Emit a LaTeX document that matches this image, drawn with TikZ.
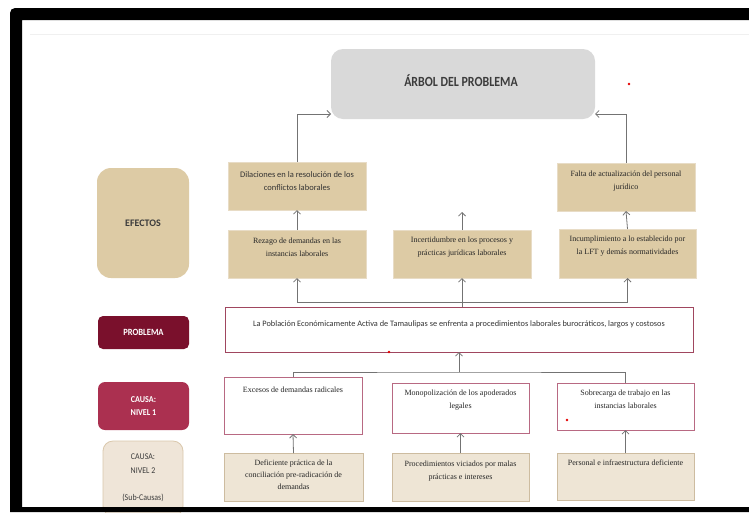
\documentclass[tikz,border=0pt]{standalone}
\usepackage{fontspec}
\setmainfont{Liberation Serif}
\newfontfamily\carl{Carlito}
\newfontfamily\carlc[FakeStretch=0.9]{Carlito}
\newfontfamily\carlt[FakeStretch=0.85]{Carlito}
\usetikzlibrary{arrows.meta}
\definecolor{titlefill}{RGB}{217,217,217}
\definecolor{dark}{RGB}{60,60,60}
\definecolor{efffill}{RGB}{221,203,165}
\definecolor{effdraw}{RGB}{232,220,198}
\definecolor{probfill}{RGB}{122,16,44}
\definecolor{probdraw}{RGB}{160,70,95}
\definecolor{c1fill}{RGB}{171,48,80}
\definecolor{causedraw}{RGB}{184,105,130}
\definecolor{c2fill}{RGB}{239,229,216}
\definecolor{c2draw}{RGB}{218,200,172}
\definecolor{subfill}{RGB}{238,229,213}
\definecolor{subdraw}{RGB}{205,188,160}
\definecolor{arrcol}{RGB}{115,115,115}
\tikzset{
 box/.style={anchor=north west, inner sep=0pt, outer sep=0pt},
 effbox/.style={box, fill=efffill, draw=effdraw, line width=0.7pt},
 causebox/.style={box, fill=white, draw=causedraw, line width=0.9pt},
 subbox/.style={box, fill=subfill, draw=subdraw, line width=0.8pt},
 lbl/.style={box, align=center, font=\carlc\bfseries\fontsize{9.5}{13}\selectfont},
 stxt/.style={anchor=north, inner sep=0pt, align=center, text=black!85, font=\fontsize{8}{12.3}\selectfont},
 ctxt/.style={anchor=north, inner sep=0pt, align=center, text=black!80, font=\carl\fontsize{8.5}{13}\selectfont},
 arr/.style={draw=arrcol, line width=0.8pt, -{Straight Barb[length=3.5pt,width=7pt]}},
 ln/.style={draw=arrcol, line width=0.8pt},
}
\begin{document}
\begin{tikzpicture}[x=1pt,y=-1pt]
\useasboundingbox (0,0) rectangle (749,512);
\fill[white] (0,0) rectangle (749,512);
\draw[black!6, line width=0.6pt] (30,34) -- (749,34);
% title
\node[box, fill=titlefill, rounded corners=12pt, minimum width=264pt, minimum height=70pt] (title) at (331,49) {};
\node[inner sep=0pt, text=dark, font=\carlt\bfseries\fontsize{14}{16}\selectfont] (titletxt) at (461,81) {ÁRBOL DEL PROBLEMA};
\coordinate (tl) at (331,114);
\coordinate (tr) at (595,114);
% left labels
\node[lbl, fill=efffill, rounded corners=14pt, minimum width=92pt, minimum height=110pt, text=dark, font=\carl\bfseries\fontsize{10}{13}\selectfont] (efectos) at (97,168) {EFECTOS};
\node[lbl, fill=probfill, rounded corners=5pt, minimum width=91pt, minimum height=33pt, text=white] (problema) at (98,316) {PROBLEMA};
\node[lbl, fill=c1fill, rounded corners=7pt, minimum width=91pt, minimum height=48pt, text=white, font=\carlc\bfseries\fontsize{9}{13}\selectfont] (causa1) at (98,382) {CAUSA:\\NIVEL 1};
\node[box, fill=c2fill, draw=c2draw, line width=0.8pt, rounded corners=10pt, minimum width=80pt, minimum height=75pt] (causa2) at (103,441) {};
\node[anchor=north, inner sep=0pt, align=center, text=dark, font=\carlc\fontsize{8.8}{13.5}\selectfont] (causa2txt) at (143,454) {CAUSA:\\NIVEL 2\\[13.5pt](Sub-Causas)};
% effects
\node[effbox, minimum width=138pt, minimum height=48pt] (dil) at (228,162) {};
\node[ctxt] (diltxt) at ([yshift=-9pt]dil.north) {Dilaciones en la resolución de los\\conflictos laborales};
\node[effbox, minimum width=138pt, minimum height=48pt] (fal) at (557,163) {};
\node[stxt] (faltxt) at ([yshift=-8pt]fal.north) {Falta de actualización del personal\\jurídico};
\node[effbox, minimum width=138pt, minimum height=48pt] (rez) at (228,230) {};
\node[stxt] (reztxt) at ([yshift=-8pt]rez.north) {Rezago de demandas en las\\instancias laborales};
\node[effbox, minimum width=138pt, minimum height=48pt] (inc) at (393,230) {};
\node[stxt] (inctxt) at ([yshift=-7pt]inc.north) {Incertidumbre en los procesos y\\prácticas jurídicas laborales};
\node[effbox, minimum width=137pt, minimum height=49pt] (inm) at (559,229) {};
\node[stxt] (inmtxt) at ([yshift=-7pt]inm.north) {Incumplimiento a lo establecido por\\la LFT y demás normatividades};
\coordinate (incfree) at (462,212);
% problem
\node[box, fill=white, draw=probdraw, line width=0.9pt, minimum width=468pt, minimum height=45pt] (prob) at (225,307) {};
\node[anchor=north, inner sep=0pt, text=black!80, font=\carl\fontsize{8.3}{10}\selectfont] (probtxt) at ([yshift=-14pt]prob.north) {La Población Económicamente Activa de Tamaulipas se enfrenta a procedimientos laborales burocráticos, largos y costosos};
% causes
\node[causebox, minimum width=138pt, minimum height=57pt] (exc) at (224,377) {};
\node[stxt] (exctxt) at ([yshift=-10pt]exc.north) {Excesos de demandas radicales};
\node[causebox, minimum width=137pt, minimum height=50pt] (mon) at (392,383) {};
\node[stxt] (montxt) at ([yshift=-7pt]mon.north) {Monopolización de los apoderados\\legales};
\node[causebox, minimum width=137pt, minimum height=47pt] (sob) at (557,383) {};
\node[stxt] (sobtxt) at ([yshift=-7pt]sob.north) {Sobrecarga de trabajo en las\\instancias laborales};
% sub causes
\node[subbox, minimum width=139pt, minimum height=48pt] (def) at (224,453) {};
\node[stxt, font=\fontsize{8}{12}\selectfont] (deftxt) at ([yshift=-7pt]def.north) {Deficiente práctica de la\\conciliación pre-radicación de\\demandas};
\node[subbox, minimum width=137pt, minimum height=48pt] (proc) at (392,453) {};
\node[stxt] (proctxt) at ([yshift=-8pt]proc.north) {Procedimientos viciados por malas\\prácticas e intereses};
\node[subbox, minimum width=137pt, minimum height=47pt] (per) at (557,453) {};
\node[stxt] (pertxt) at ([yshift=-7pt]per.north) {Personal e infraestructura deficiente};
% connectors
\draw[arr] (dil.north) |- (tl);
\draw[arr] (fal.north) |- (tr);
\draw[arr] (rez.north) -- (dil.south);
\draw[arr] (inm.north) -- (fal.south);
\draw[arr] (inc.north) -- (incfree);
\coordinate (jE) at (462,302);
\draw[arr] (prob.north -| jE) -- (inc.south);
\draw[arr] (jE) -| (rez.south);
\draw[arr] (jE) -| (inm.south);
\coordinate (jC) at (459,372);
\draw[arr] (jC) -- (prob.south -| jC);
\draw[ln] (exc.north) |- (jC) -| (sob.north);
\draw[arr] (def.north) -- (exc.south);
\draw[arr] (proc.north) -- (mon.south);
\draw[arr] (per.north) -- (sob.south);
% stray red dots
\fill[red!90!black] (629,84) circle (1.3pt);
\fill[red!90!black] (389,352) circle (1.3pt);
\fill[red!90!black] (567,420) circle (1.3pt);
% frame
\fill[black] (10,512) [rounded corners=5pt] -- (10,8) [sharp corners] -- (749,8) -- (749,20) -- (22,20) -- (22,507) -- (749,507) -- (749,512) -- cycle;
\end{tikzpicture}
\end{document}
